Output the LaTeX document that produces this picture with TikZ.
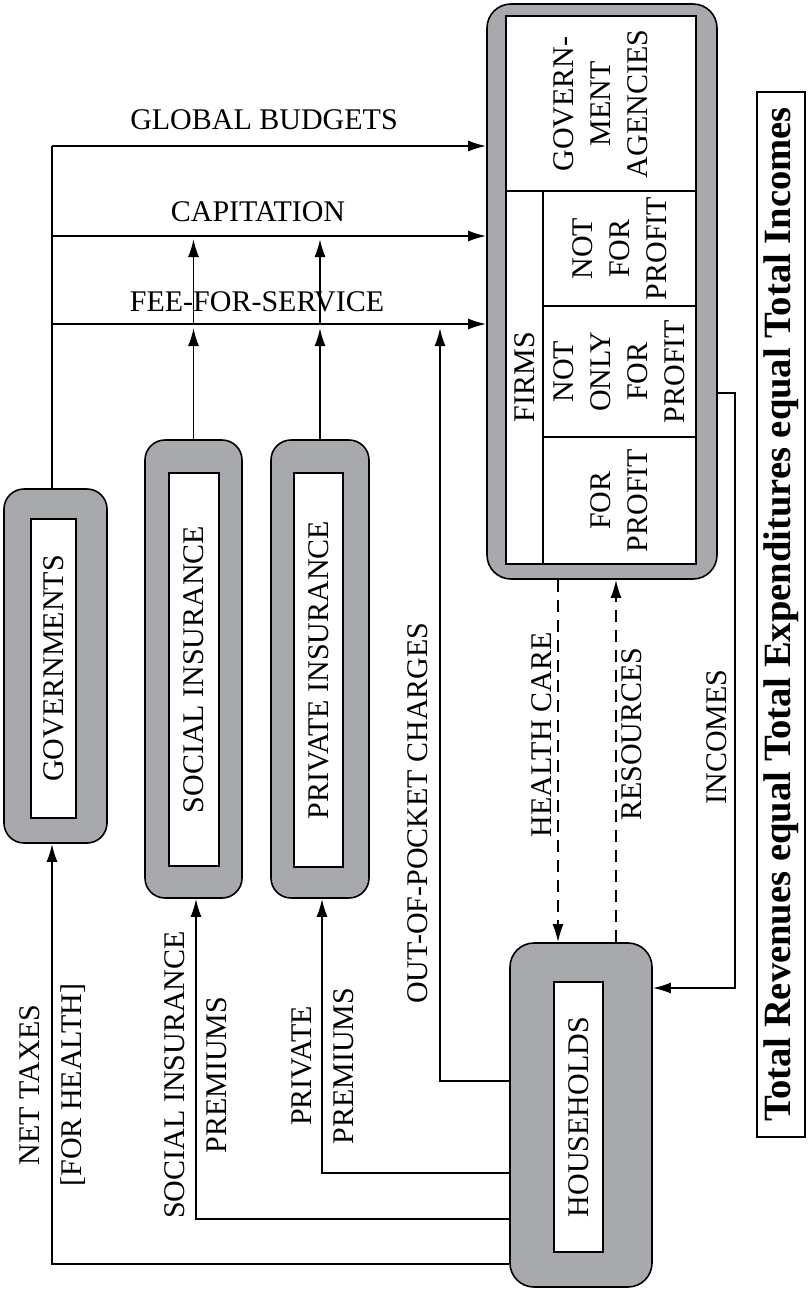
\documentclass[tikz,border=0pt]{standalone}
\usepackage{fontspec}
\setmainfont{Liberation Serif}
\usetikzlibrary{arrows.meta}
\definecolor{boxgray}{RGB}{167,169,172}

\begin{document}
\begin{tikzpicture}[
    x=0.5pt, y=-0.5pt,
    every node/.style={font=\fontsize{15}{18.5}\selectfont, inner sep=0pt},
    outer box/.style={draw, line width=0.8pt, fill=boxgray, rounded corners=10pt},
    inner box/.style={draw, line width=1pt, fill=white},
    side label/.style={rotate=90, align=center},
    flow label/.style={rotate=90, align=center, font=\fontsize{15}{21}\selectfont},
    flow/.style={draw, line width=0.9pt, -{Latex[length=9pt,width=5.5pt]}},
    supply/.style={flow, dash pattern=on 6pt off 4pt}
    ]
    \useasboundingbox (0,0) rectangle (808,1291);

    % Nodes
    \node[outer box, rounded corners=12pt, minimum width=115pt, minimum height=287.5pt] (firms) at (602,291.5) {};
    \node[inner box, minimum width=95pt, minimum height=274pt] (firmsin) at (601,290) {};

    \node[outer box, minimum width=51.5pt, minimum height=177pt] (gov) at (55.5,666) {};
    \node[inner box, minimum width=22.5pt, minimum height=149.5pt] (govin) at (53.5,668.5) {};
    \node[side label] (govtxt) at (govin) {GOVERNMENTS};

    \node[outer box, minimum width=48.5pt, minimum height=229pt] (soc) at (193.5,669) {};
    \node[inner box, minimum width=25pt, minimum height=196.5pt] (socin) at (194,669.5) {};
    \node[side label] (soctxt) at (socin) {SOCIAL INSURANCE};

    \node[outer box, minimum width=49pt, minimum height=229pt] (priv) at (320,669) {};
    \node[inner box, minimum width=24.5pt, minimum height=197pt] (privin) at (318.5,670) {};
    \node[side label] (privtxt) at (privin) {PRIVATE INSURANCE};

    \node[outer box, rounded corners=12pt, minimum width=71pt, minimum height=172pt] (hh) at (581,1115) {};
    \node[inner box, minimum width=24.5pt, minimum height=135pt] (hhin) at (578.5,1117) {};
    \node[side label] (hhtxt) at (hhin) {HOUSEHOLDS};

    % Firm cells
    \coordinate (gacut) at (506,191);
    \coordinate (colcut) at (543,191);
    \coordinate (nfpcut) at (543,306);
    \coordinate (fpcut) at (543,437);
    \draw[line width=1pt] (gacut) -- (gacut -| firmsin.east);
    \draw[line width=1pt] (colcut) -- (colcut |- firmsin.south);
    \foreach \c in {nfpcut, fpcut}
        \draw[line width=1pt] (\c) -- (\c -| firmsin.east);

    \node[side label] (agencies) at (601,104) {GOVERN-\\MENT\\AGENCIES};
    \node[side label] (firmstxt) at (524.5,377) {FIRMS};
    \node[side label] (nfp) at (619.5,248.5) {NOT\\FOR\\PROFIT};
    \node[side label] (nofp) at (619.5,371.5) {NOT\\ONLY\\FOR\\PROFIT};
    \node[side label] (fp) at (619.5,500.5) {FOR\\PROFIT};

    \node[draw, line width=1pt, rotate=90, minimum width=522.5pt, minimum height=24pt,
          font=\fontsize{19.3}{23}\selectfont\bfseries] (total) at (781,614.5)
          {Total Revenues equal Total Expenditures equal Total Incomes};

    % Flow labels
    \node (gbtxt) at (264,120) {GLOBAL BUDGETS};
    \node (captxt) at (258,212) {CAPITATION};
    \node (ffstxt) at (257,302) {FEE-FOR-SERVICE};
    \node[flow label] (taxtxt) at (53,1085) {NET TAXES\\{}[FOR HEALTH]};
    \node[flow label] (socptxt) at (195.5,1075) {SOCIAL INSURANCE\\PREMIUMS};
    \node[flow label] (privptxt) at (322.5,1066) {PRIVATE\\PREMIUMS};
    \node[flow label] (ooptxt) at (418,813) {OUT-OF-POCKET CHARGES};
    \node[flow label] (caretxt) at (542,735) {HEALTH CARE};
    \node[flow label] (restxt) at (632,734) {RESOURCES};
    \node[flow label] (inctxt) at (717,737) {INCOMES};

    % Connections
    \coordinate (gb) at (52,146);
    \coordinate (cap) at (52,236);
    \coordinate (ffs) at (52,324);
    \draw[line width=0.9pt] (gb |- gov.north) -- (gb);
    \foreach \c in {gb, cap, ffs}
        \path[flow] (\c) -- (\c -| firms.west);

    \foreach \b in {soc, priv} {
        \path[flow, shorten >=2pt] (\b.north) -- (\b.north |- ffs);
        \path[flow, shorten >=1.5pt] (\b.north |- ffs) -- (\b.north |- cap);
    }

    \coordinate (taxrow) at (52,1264);
    \coordinate (socrow) at (196,1219);
    \coordinate (privrow) at (322,1173);
    \coordinate (ooprow) at (440,1081);
    \foreach \r/\t in {taxrow/gov, socrow/soc, privrow/priv}
        \path[flow] (\r -| hh.west) -- (\r) -- (\r |- \t.south);
    \path[flow, shorten >=2pt] (ooprow -| hh.west) -- (ooprow) -- (ooprow |- ffs);

    \coordinate (care) at (558,760);
    \coordinate (res) at (616,760);
    \path[supply] (care |- firms.south) -- (care |- hh.north);
    \path[supply] (res |- hh.north) -- (res |- firms.south);

    \coordinate (incrow) at (735,393);
    \coordinate (incin) at (735,988);
    \path[flow] (incrow -| firms.east) -- (incrow) -- (incin) -- (incin -| hh.east);

\end{tikzpicture}
\end{document}
